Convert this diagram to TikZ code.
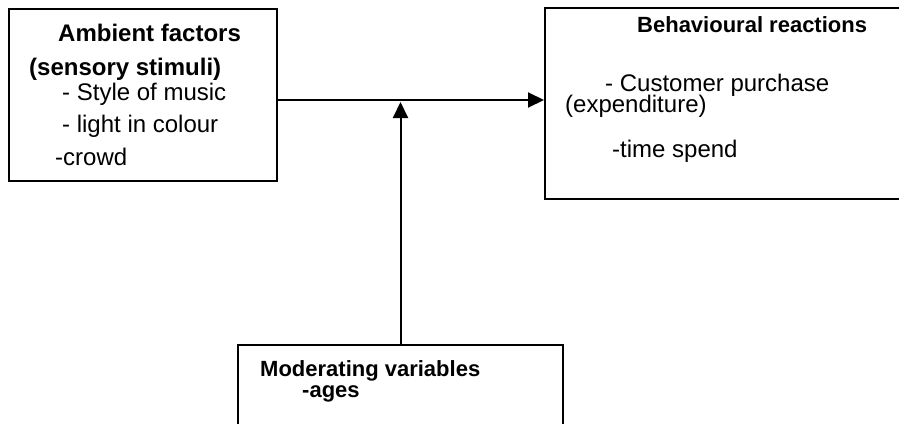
\documentclass[tikz,border=0pt]{standalone}
\usepackage{fontspec}
\setmainfont{Liberation Sans}
\usetikzlibrary{arrows.meta}
\begin{document}
\begin{tikzpicture}[x=1pt,y=-1pt,
  box/.style={draw=black,line width=2pt,rectangle,inner sep=0pt,anchor=north west},
  txt/.style={anchor=base west,inner sep=0pt,font=\fontsize{24}{29}\selectfont},
  head/.style={anchor=base west,inner sep=0pt,font=\fontsize{24}{29}\selectfont\bfseries},
  headsm/.style={anchor=base west,inner sep=0pt,font=\fontsize{22}{27}\selectfont\bfseries},
  arr/.style={line width=2pt,-{Triangle[length=16pt,width=15pt]}}]
\useasboundingbox (0,0) rectangle (899,423);
\clip (0,0) rectangle (899,423);
% boxes
\node[box,minimum width=268pt,minimum height=172pt] (amb) at (8,8) {};
\node[box,minimum width=380pt,minimum height=191pt] (beh) at (544,7) {};
\node[box,minimum width=325pt,minimum height=100pt] (mod) at (237,344) {};
% left box text
\node[head] (t1) at (58,41) {Ambient factors};
\node[head] (t2) at (29,75) {(sensory stimuli)};
\node[txt] (t3) at (62,100) {- Style of music};
\node[txt] (t4) at (62,132) {- light in colour};
\node[txt] (t5) at (55,165) {-crowd};
% right box text
\node[headsm] (r1) at (637,32) {Behavioural reactions};
\node[txt] (r2) at (605,91) {- Customer purchase};
\node[txt] (r3) at (565,112) {(expenditure)};
\node[txt] (r4) at (612,157) {-time spend};
% bottom box text
\node[headsm] (m1) at (260,376) {Moderating variables};
\node[headsm] (m2) at (302,397) {-ages};
% connectors
\coordinate (hs) at ([yshift=-5pt]amb.east);
\coordinate (he) at (hs -| beh.west);
\draw[arr] (hs) -- (he);
\coordinate (vt) at ([yshift=-2pt]mod.north |- hs);
\draw[arr] (mod.north) -- (vt);
\end{tikzpicture}
\end{document}
